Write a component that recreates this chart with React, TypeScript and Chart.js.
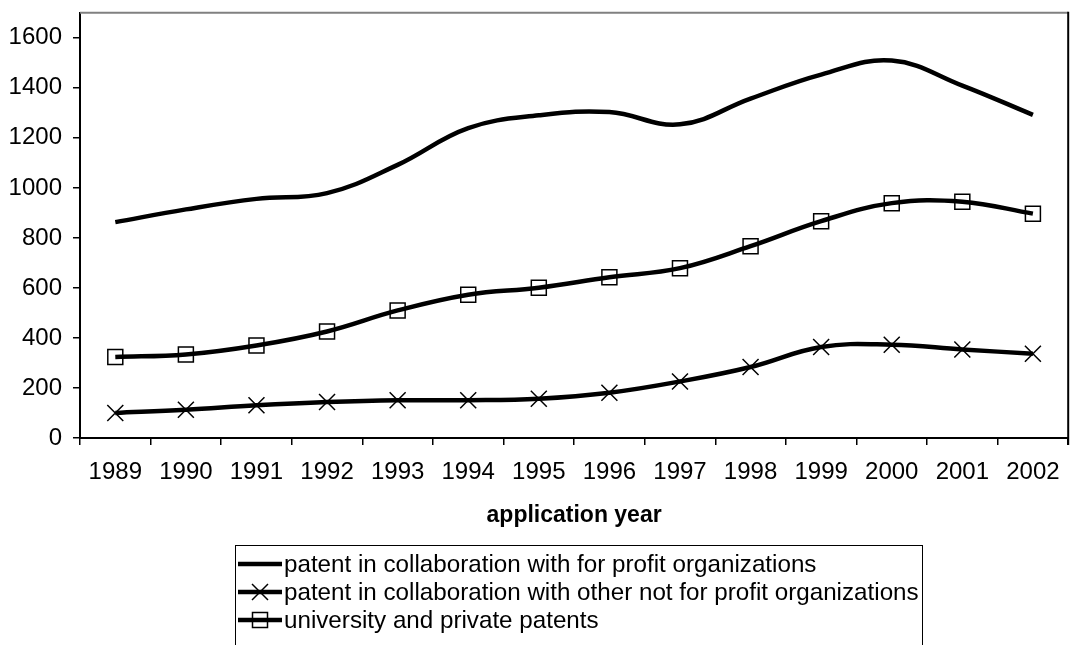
import React, { useEffect, useRef } from 'react';
import { Chart, registerables } from 'chart.js';

Chart.register(...registerables);

const years = ['1989', '1990', '1991', '1992', '1993', '1994', '1995', '1996', '1997', '1998', '1999', '2000', '2001', '2002'];
const forProfit = [863, 914, 956, 979, 1092, 1239, 1290, 1303, 1254, 1357, 1453, 1509, 1409, 1292];
const otherNonProfit = [100, 113, 131, 144, 151, 151, 157, 181, 226, 284, 364, 373, 354, 337];
const university = [324, 334, 370, 426, 510, 573, 601, 643, 679, 767, 867, 939, 945, 897];
const yTicks = [0, 200, 400, 600, 800, 1000, 1200, 1400, 1600];
const seriesLabels = [
  'patent in collaboration with for profit organizations',
  'patent in collaboration with other not for profit organizations',
  'university and private patents',
];
const xTitle = 'application year';

const FONT = 'Arial, "Liberation Sans", sans-serif';

const boxLegendPlugin = {
  id: 'boxLegend',
  afterDraw(chart: any) {
    const ctx = chart.ctx as CanvasRenderingContext2D;
    const { left, top, right, bottom } = chart.chartArea;
    ctx.save();
    // plot frame (top gray, right black)
    ctx.lineWidth = 2;
    ctx.strokeStyle = '#808080';
    ctx.beginPath();
    ctx.moveTo(left, top);
    ctx.lineTo(right, top);
    ctx.stroke();
    ctx.strokeStyle = '#000';
    ctx.beginPath();
    ctx.moveTo(right, top - 1);
    ctx.lineTo(right, bottom + 7);
    ctx.stroke();

    // legend box
    const bx = 235.5, by = 545.5, bw = 687, bh = 130;
    ctx.lineWidth = 1;
    ctx.strokeStyle = '#000';
    ctx.strokeRect(bx, by, bw, bh);

    const rowY = [564, 592, 620];
    ctx.font = `24.2px ${FONT}`;
    ctx.fillStyle = '#000';
    ctx.textBaseline = 'middle';
    ctx.textAlign = 'left';
    chart.data.datasets.forEach((ds: any, i: number) => {
      const y = rowY[i];
      ctx.lineWidth = 4.5;
      ctx.strokeStyle = '#000';
      ctx.beginPath();
      ctx.moveTo(238, y);
      ctx.lineTo(282, y);
      ctx.stroke();
      const cx = 260;
      ctx.lineWidth = 1.5;
      if (ds.pointStyle === 'crossRot') {
        ctx.beginPath();
        ctx.moveTo(cx - 8, y - 8);
        ctx.lineTo(cx + 8, y + 8);
        ctx.moveTo(cx - 8, y + 8);
        ctx.lineTo(cx + 8, y - 8);
        ctx.stroke();
      } else if (ds.pointStyle === 'rect') {
        ctx.strokeRect(cx - 7.5, y - 7.5, 15, 15);
      }
      ctx.fillText(ds.label, 284, y + 1);
    });
    ctx.restore();
  },
};

export default function App() {
  const canvasRef = useRef<HTMLCanvasElement | null>(null);

  useEffect(() => {
    document.body.style.margin = '0';
    const canvas = canvasRef.current;
    if (!canvas) return;
    const common = {
      borderColor: '#000',
      borderWidth: 4.5,
      tension: 0.4,
      fill: false,
      pointBorderColor: '#000',
      pointBackgroundColor: 'rgba(0,0,0,0)',
      pointBorderWidth: 1.5,
    };
    const chart = new Chart(canvas, {
      type: 'line',
      data: {
        labels: years,
        datasets: [
          { ...common, label: seriesLabels[0], data: forProfit, pointRadius: 0, pointStyle: 'line' as any },
          { ...common, label: seriesLabels[1], data: otherNonProfit, pointRadius: 11.3, pointStyle: 'crossRot' as any },
          { ...common, label: seriesLabels[2], data: university, pointRadius: 10.6, pointStyle: 'rect' as any },
        ],
      },
      options: {
        responsive: false,
        animation: false,
        devicePixelRatio: 1,
        layout: { padding: { top: 12, right: 2, left: 0, bottom: 0 } },
        plugins: {
          legend: { display: false },
          tooltip: { enabled: false },
        },
        scales: {
          x: {
            offset: true,
            grid: { offset: true, drawOnChartArea: false, drawTicks: true, tickLength: 7, color: '#000', lineWidth: 1.5 },
            border: { display: true, color: '#000', width: 2 },
            ticks: { color: '#000', font: { family: FONT, size: 24 }, padding: 13, maxRotation: 0, autoSkip: false },
            title: {
              display: true,
              text: xTitle,
              color: '#000',
              font: { family: FONT, size: 23, weight: 'bold' },
              padding: { top: 0, bottom: 116 },
            },
            afterFit: (scale: any) => {
              scale.height = 207;
              scale.paddingLeft = 0;
              scale.paddingRight = 0;
            },
          },
          y: {
            min: 0,
            max: 1700,
            grid: { drawOnChartArea: false, drawTicks: true, tickLength: 7, color: '#000', lineWidth: 1.5 },
            border: { display: true, color: '#000', width: 2 },
            ticks: {
              color: '#000',
              font: { family: FONT, size: 24 },
              padding: 11,
              stepSize: 200,
              callback: (v: any) => String(v),
            },
            afterBuildTicks: (scale: any) => {
              scale.ticks = yTicks.map((v) => ({ value: v }));
            },
            afterFit: (scale: any) => {
              scale.width = 80;
              scale.paddingTop = 0;
              scale.paddingBottom = 0;
            },
          },
        },
      },
      plugins: [boxLegendPlugin],
    });
    return () => chart.destroy();
  }, []);

  return (
    <div style={{ width: 1081, height: 645, background: '#fff' }}>
      <canvas ref={canvasRef} width={1081} height={645} style={{ width: 1081, height: 645, display: 'block' }} />
    </div>
  );
}
